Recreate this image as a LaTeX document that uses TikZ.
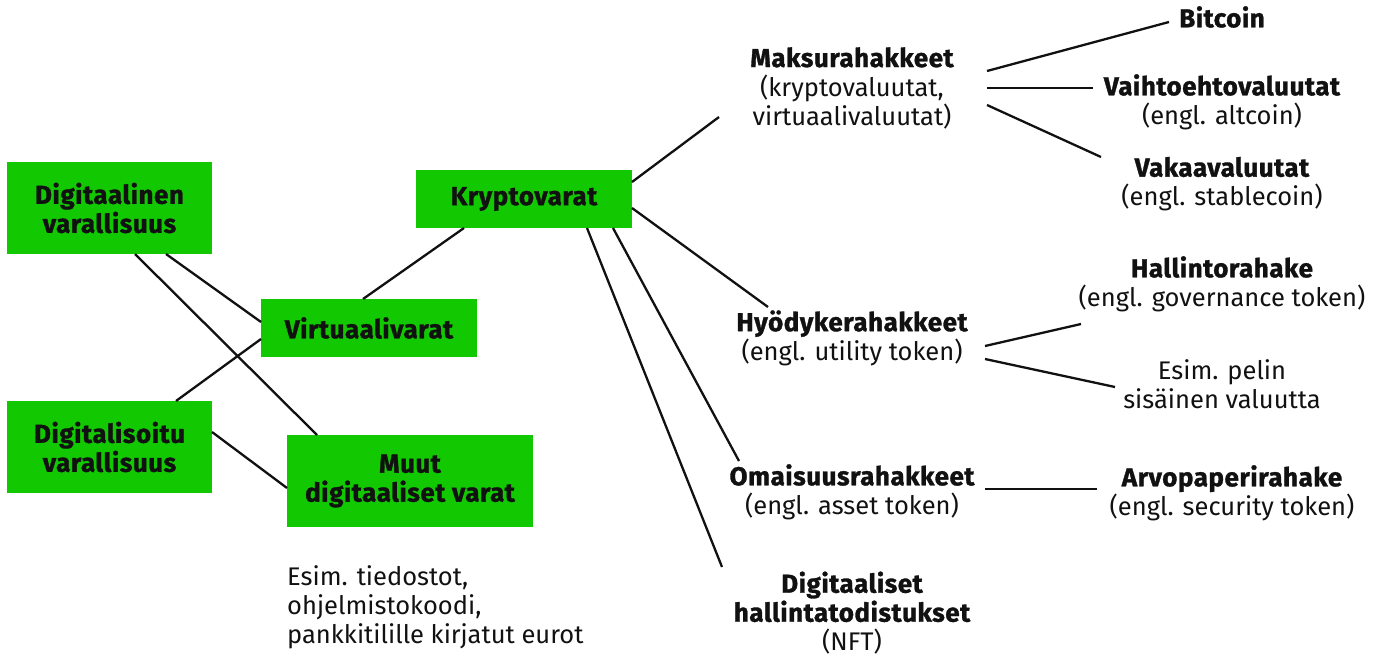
\documentclass[tikz,border=0pt]{standalone}
\usepackage{fontspec}
\setmainfont{Fira Sans}[BoldFeatures={FakeBold=1.2,LetterSpace=2}]
\usetikzlibrary{calc}
\definecolor{boxgreen}{RGB}{18,200,0}
\definecolor{ink}{RGB}{17,17,17}
\newcommand\hd[1]{{\fontsize{26}{29}\selectfont\bfseries #1}}
\begin{document}
\begin{tikzpicture}[x=1pt,y=-1pt,
  every node/.style={text=ink,font=\fontsize{25.5}{29}\selectfont,align=center,inner sep=0pt},
  gbox/.style={fill=boxgreen,font=\fontsize{26}{29}\selectfont\bfseries},
  conn/.style={draw=ink,line width=2.3pt}]
\useasboundingbox (0,0) rectangle (1384,656);
% green boxes
\node[gbox,minimum width=205pt,minimum height=92pt] (dv) at (109.5,208) {Digitaalinen\\varallisuus};
\node[gbox,minimum width=216pt,minimum height=58pt] (kv) at (524,199) {Kryptovarat};
\node[gbox,minimum width=216pt,minimum height=58pt] (vv) at (369,328) {Virtuaalivarat};
\node[gbox,minimum width=205pt,minimum height=92pt] (ds) at (109.5,447) {Digitalisoitu\\varallisuus};
\node[gbox,minimum width=246pt,minimum height=92pt] (mu) at (410,481) {Muut\\digitaaliset varat};
% text nodes
\node (maksu) at (852,88) {\hd{Maksurahakkeet}\\(kryptovaluutat,\\virtuaalivaluutat)};
\node (bitcoin) at (1222,17) {\hd{Bitcoin}};
\node (vaihto) at (1222,102) {\hd{Vaihtoehtovaluutat}\\(engl. altcoin)};
\node (vakaa) at (1222,184) {\hd{Vakaavaluutat}\\(engl. stablecoin)};
\node (hallinto) at (1222,284) {\hd{Hallintorahake}\\(engl. governance token)};
\node (hyodyke) at (852,338) {\hd{Hyödykerahakkeet}\\(engl. utility token)};
\node (esim) at (1222,384) {Esim. pelin\\sisäinen valuutta};
\node (omai) at (852,492) {\hd{Omaisuusrahakkeet}\\(engl. asset token)};
\node (arvo) at (1232,493) {\hd{Arvopaperirahake}\\(engl. security token)};
\node (nft) at (852,613) {\hd{Digitaaliset}\\\hd{hallintatodistukset}\\(NFT)};
\node[anchor=west,align=left] (muutesim) at (287,607) {Esim. tiedostot,\\ohjelmistokoodi,\\pankkitilille kirjatut eurot};
% connectors
\draw[conn] ($(dv)+(25.5,46)$) -- ($(mu)+(-93,-46)$);
\draw[conn] ($(dv)+(56.5,46)$) -- ($(vv)+(-108,-6)$);
\draw[conn] ($(ds)+(66.5,-46)$) -- ($(vv)+(-108,11)$);
\draw[conn] ($(ds)+(102.5,-15)$) -- ($(mu)+(-123,7)$);
\draw[conn] ($(vv)+(-6,-29)$) -- ($(kv)+(-60,29)$);
\draw[conn] ($(kv)+(108,-17)$) -- ($(maksu)+(-133,29)$);
\draw[conn] ($(kv)+(108,9)$) -- ($(hyodyke)+(-84,-31)$);
\draw[conn] ($(kv)+(89,29)$) -- ($(omai)+(-113,-31)$);
\draw[conn] ($(kv)+(63,29)$) -- ($(nft)+(-130,-46)$);
\draw[conn] ($(maksu)+(135,-17)$) -- ($(bitcoin)+(-53,5)$);
\draw[conn] ($(maksu)+(135,0)$) -- ($(vaihto)+(-129,-14)$);
\draw[conn] ($(maksu)+(135,17)$) -- ($(vakaa)+(-121,-27)$);
\draw[conn] ($(hyodyke)+(133,8)$) -- ($(hallinto)+(-141,40)$);
\draw[conn] ($(hyodyke)+(133,21)$) -- ($(esim)+(-107,3)$);
\draw[conn] ($(omai)+(133,-3)$) -- ($(arvo)+(-135,-4)$);
\end{tikzpicture}
\end{document}
